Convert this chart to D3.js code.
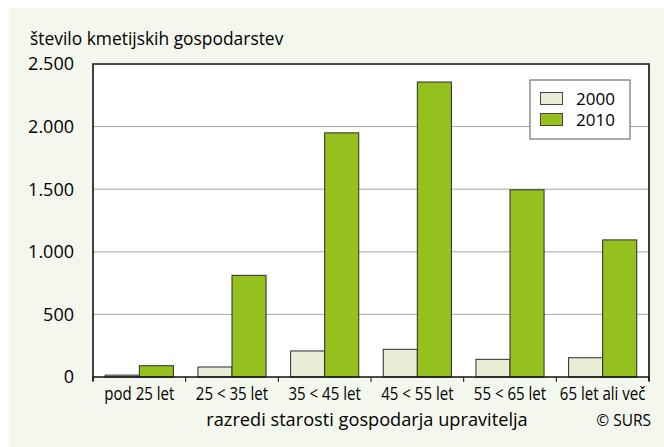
<!DOCTYPE html>
<html>
<head>
<meta charset="utf-8">
<script src="https://cdn.jsdelivr.net/npm/d3@7/dist/d3.min.js"></script>
<style>
  html, body { margin: 0; padding: 0; background: #ffffff; }
  svg { display: block; }
  text { font-family: "Open Sans", "Noto Sans", sans-serif; fill: #000; }
</style>
</head>
<body>
<svg id="chart" width="664" height="447"></svg>
<script>
// Farm holdings by age class of the manager
const categories = ["pod 25 let", "25 < 35 let", "35 < 45 let", "45 < 55 let", "55 < 65 let", "65 let ali več"];
const seriesNames = ["2000", "2010"];
const values2000 = [15, 80, 208, 221, 141, 154];
const values2010 = [90, 812, 1950, 2356, 1495, 1095];
const yTicks = [0, 500, 1000, 1500, 2000, 2500];
const yTickLabels = ["0", "500", "1.000", "1.500", "2.000", "2.500"];

const colors = { "2000": "#e8eed5", "2010": "#95c11f" };

const svg = d3.select("#chart");
const W = 664, H = 447;
const plot = { left: 93, right: 649, top: 64, bottom: 377 };

// tinted card
svg.append("rect").attr("x", 9).attr("y", 8).attr("width", W - 9).attr("height", H - 8)
  .attr("fill", "#f4f7ee");

const x = d3.scaleBand().domain(categories).range([plot.left, plot.right]).paddingInner(0).paddingOuter(0);
const xs = d3.scaleBand().domain(seriesNames).range([0, x.bandwidth()]).paddingInner(0).paddingOuter(0.36);
const y = d3.scaleLinear().domain([0, 2500]).range([plot.bottom, plot.top]);

// plot background
svg.append("rect").attr("x", plot.left).attr("y", plot.top)
  .attr("width", plot.right - plot.left).attr("height", plot.bottom - plot.top)
  .attr("fill", "#ffffff");

// gridlines
svg.append("g").selectAll("line").data(yTicks.filter(d => d > 0 && d < 2500)).join("line")
  .attr("x1", plot.left).attr("x2", plot.right)
  .attr("y1", d => y(d)).attr("y2", d => y(d))
  .attr("stroke", "#a6a6a6").attr("stroke-width", 1);

// bars
const rows = categories.map((c, i) => ({ cat: c, "2000": values2000[i], "2010": values2010[i] }));
const groups = svg.append("g").selectAll("g").data(rows).join("g")
  .attr("transform", d => `translate(${x(d.cat)},0)`);
groups.selectAll("rect").data(d => seriesNames.map(s => ({ s, v: d[s] }))).join("rect")
  .attr("x", d => xs(d.s))
  .attr("width", xs.bandwidth())
  .attr("y", d => y(d.v))
  .attr("height", d => y(0) - y(d.v))
  .attr("fill", d => colors[d.s])
  .attr("stroke", "#2b2b2b").attr("stroke-width", 1);

// frame: top, left, right
svg.append("path")
  .attr("d", `M${plot.left},${plot.bottom + 4}V${plot.top}H${plot.right}V${plot.bottom + 4}`)
  .attr("fill", "none").attr("stroke", "#111").attr("stroke-width", 1.6);

// x axis
const xAxis = svg.append("g").attr("transform", `translate(0,${plot.bottom})`);
xAxis.append("line").attr("x1", plot.left).attr("x2", plot.right)
  .attr("stroke", "#111").attr("stroke-width", 1.6);
const bounds = categories.map(c => x(c)).concat([plot.right]);
xAxis.selectAll("line.tick").data(bounds).join("line").attr("class", "tick")
  .attr("x1", d => d).attr("x2", d => d).attr("y1", 0).attr("y2", 5)
  .attr("stroke", "#111").attr("stroke-width", 1);
xAxis.selectAll("text").data(categories).join("text")
  .attr("transform", d => `translate(${x(d) + x.bandwidth() / 2},23) scale(0.86,1)`)
  .attr("text-anchor", "middle")
  .attr("font-size", 17.5)
  .text(d => d);

// y axis labels
svg.append("g").selectAll("text").data(yTicks).join("text")
  .attr("x", 74).attr("y", d => y(d))
  .attr("dy", "0.35em")
  .attr("text-anchor", "end")
  .attr("font-size", 18)
  .text((d, i) => yTickLabels[i]);

// titles
svg.append("text").attr("x", 30).attr("y", 45).attr("font-size", 17.4)
  .text("število kmetijskih gospodarstev");
svg.append("text").attr("x", 367).attr("y", 426).attr("text-anchor", "middle").attr("font-size", 18.2)
  .text("razredi starosti gospodarja upravitelja");
svg.append("text").attr("x", 651).attr("y", 426).attr("text-anchor", "end").attr("font-size", 15.5)
  .text("© SURS");

// legend
const lg = svg.append("g").attr("transform", "translate(530,80)");
lg.append("rect").attr("width", 100).attr("height", 59)
  .attr("fill", "#ffffff").attr("stroke", "#555").attr("stroke-width", 1);
seriesNames.forEach((s, i) => {
  lg.append("rect").attr("x", 10.5).attr("y", 12.5 + i * 21).attr("width", 22).attr("height", 12)
    .attr("fill", colors[s]).attr("stroke", "#444").attr("stroke-width", 1);
  lg.append("text").attr("x", 46).attr("y", 25 + i * 21).attr("font-size", 17).text(s);
});
</script>
</body>
</html>
